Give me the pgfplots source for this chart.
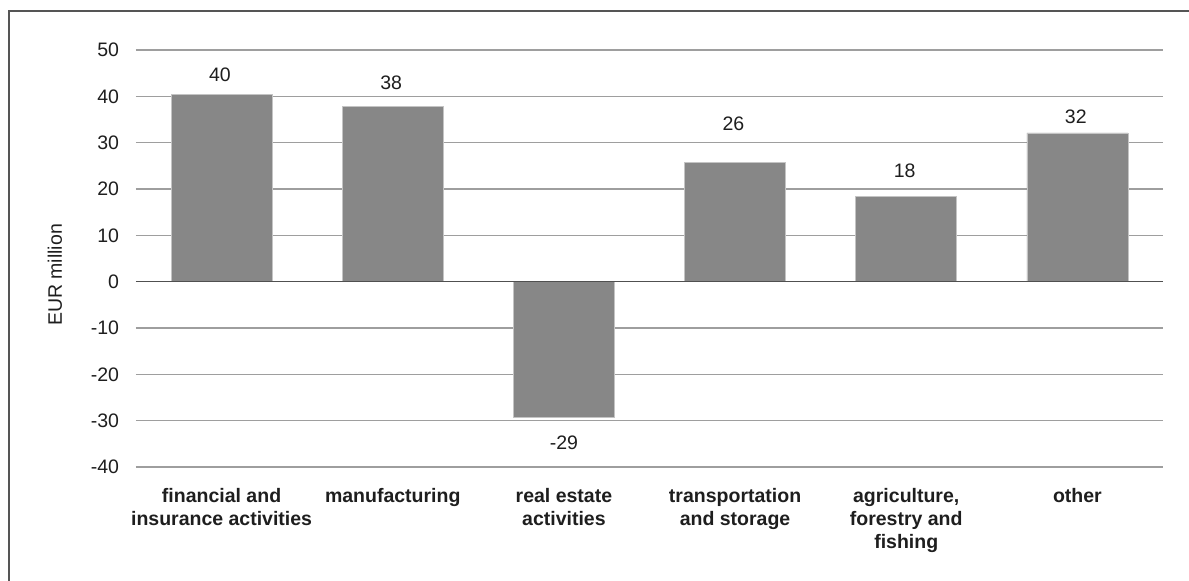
\documentclass[border=0pt]{standalone}
\usepackage{pgfplots}
\pgfplotsset{compat=1.18}
\usepackage{fontspec}
\setmainfont{Liberation Sans}

\definecolor{barfill}{HTML}{878787}
\definecolor{baredge}{HTML}{C4C4C4}
\definecolor{gridc}{HTML}{9E9E9E}
\definecolor{zeroc}{HTML}{505050}
\definecolor{framec}{HTML}{555555}
\definecolor{textc}{HTML}{1E1E1E}

\begin{document}
\begin{tikzpicture}[x=1pt,y=1pt,font=\fontsize{9.75}{11.5}\selectfont,text=textc]
\useasboundingbox (0,0) rectangle (594.5,290);
% outer frame (runs past the page on the right and bottom)
\draw[framec, line width=1pt] (4.65,-20) rectangle (620,284.5);
\begin{axis}[
  at={(68pt,56.5pt)}, anchor=south west,
  width=513.5pt, height=208.5pt, scale only axis,
  xmin=-0.5, xmax=5.5, ymin=-40, ymax=50,
  ytick={-40,-30,...,50},
  xtick={0,1,2,3,4,5},
  xticklabels={financial and\\insurance activities, manufacturing, real estate\\activities, transportation\\and storage, {agriculture,\\forestry and\\fishing}, other},
  xticklabel style={font=\fontsize{9.75}{11.5}\selectfont\bfseries, align=center, anchor=north, inner sep=0pt, yshift=-10.5pt},
  yticklabel style={anchor=east, inner sep=0pt, xshift=-8.3pt},
  /pgf/number format/assume math mode=true,
  axis line style={draw=none},
  major tick length=0pt,
  ymajorgrids, grid style={gridc, line width=0.75pt},
  clip=false,
]
% positive bars; dy = gap (pt) between bar top and value label
\addplot[ybar, bar width=50.5pt, bar shift=0pt, fill=barfill, draw=baredge, line width=0.4pt,
  point meta=y,
  visualization depends on={\thisrow{dy} \as \labdy},
  nodes near coords={\pgfmathprintnumber[fixed,precision=0]{\pgfplotspointmeta}},
  nodes near coords style={anchor=south, inner sep=0pt, yshift=\labdy pt, xshift=-0.8pt, text=textc}]
  table[x=x, y=y] {
x  y     dy
0  40.4  6.0
1  37.8  8.3
3  25.7  15.9
4  18.3  9.25
5  32.1  4.4
};
% negative bar
\addplot[ybar, bar width=50.5pt, bar shift=0pt, fill=barfill, draw=baredge, line width=0.4pt,
  point meta=y,
  nodes near coords={\pgfmathprintnumber[fixed,precision=0]{\pgfplotspointmeta}},
  nodes near coords style={anchor=north, inner sep=0pt, yshift=-9.0pt, text=textc}]
  coordinates {(2,-29.4)};
% zero line on top of the bars
\draw[zeroc, line width=0.75pt] (axis cs:-0.5,0) -- (axis cs:5.5,0);
\end{axis}
\node[rotate=90, inner sep=0pt] at (27.5,152.5) {EUR million};
\end{tikzpicture}
\end{document}
